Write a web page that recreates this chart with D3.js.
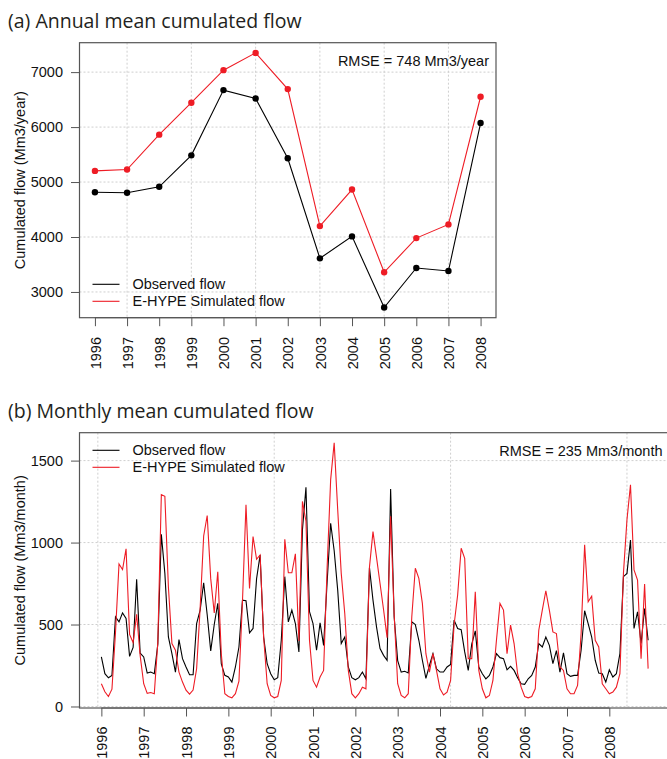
<!DOCTYPE html>
<html>
<head>
<meta charset="utf-8">
<script src="https://cdn.jsdelivr.net/npm/d3@7/dist/d3.min.js"></script>
<style>
  body { margin: 0; background: #fff; }
</style>
</head>
<body>
<div id="chart"></div>
<script>
// ---- data ----
const years = [1996, 1997, 1998, 1999, 2000, 2001, 2002, 2003, 2004, 2005, 2006, 2007, 2008];
const annualObserved = [4815, 4804, 4913, 5486, 6673, 6521, 5432, 3612, 4011, 2717, 3436, 3381, 6074];
const annualSimulated = [5203, 5227, 5862, 6443, 7036, 7350, 6691, 4198, 4864, 3358, 3980, 4229, 6552];

const monthlyObserved = [
    302, 200, 175, 190, 547, 516, 571, 537, 306, 360, 776, 325,
    302, 204, 210, 200, 380, 1050, 812, 424, 322, 210, 408, 292,
    241, 194, 194, 506, 588, 755, 560, 339, 500, 630, 260, 190,
    180, 149, 241, 363, 649, 645, 449, 476, 780, 924, 424, 261,
    200, 163, 176, 404, 792, 516, 588, 506, 333, 1078, 1337, 578,
    506, 343, 510, 373, 760, 1118, 950, 710, 384, 424, 241, 176,
    163, 176, 210, 169, 847, 649, 486, 353, 312, 282, 1327, 547,
    280, 210, 215, 205, 516, 500, 404, 282, 172, 250, 322, 230,
    210, 210, 241, 257, 527, 476, 469, 333, 220, 380, 461, 241,
    200, 169, 190, 241, 322, 298, 292, 224, 245, 220, 176, 139,
    135, 169, 190, 241, 384, 363, 424, 373, 261, 341, 210, 327,
    200, 184, 190, 190, 343, 584, 506, 424, 282, 204, 200, 149,
    224, 180, 200, 322, 792, 812, 1016, 476, 578, 384, 598, 404
];
const monthlySimulated = [
    139, 90, 61, 106, 450, 869, 835, 962, 440, 390, 563, 310,
    139, 80, 85, 78, 390, 1292, 1282, 731, 384, 343, 210, 149,
    100, 75, 100, 230, 600, 1040, 1165, 780, 570, 822, 322, 78,
    61, 53, 78, 155, 640, 1231, 720, 1037, 898, 924, 424, 139,
    67, 53, 61, 159, 1020, 816, 816, 931, 400, 1251, 1130, 404,
    159, 118, 180, 220, 850, 1384, 1608, 1200, 812, 567, 220, 78,
    53, 78, 118, 108, 850, 1067, 910, 750, 590, 420, 1160, 560,
    139, 67, 53, 78, 547, 843, 782, 629, 322, 210, 322, 220,
    108, 70, 88, 159, 500, 680, 965, 904, 292, 292, 700, 220,
    108, 53, 67, 159, 404, 629, 588, 322, 496, 384, 200, 118,
    61, 53, 61, 108, 465, 588, 706, 588, 455, 445, 241, 220,
    108, 78, 78, 129, 445, 986, 639, 673, 404, 363, 139, 108,
    78, 88, 118, 200, 812, 1139, 1353, 833, 771, 292, 747, 231
];

const seriesNames = ["Observed flow", "E-HYPE Simulated flow"];
const colors = ["#000000", "#ee1c25"];
const annualYTicks = [3000, 4000, 5000, 6000, 7000];
const annualGridYears = [1997, 1999, 2001, 2003, 2005, 2007];
const monthlyYTicks = [0, 500, 1000, 1500];
const monthlyGridIndex = [0, 50, 100, 150];   // R default grid on month index 1..156

const width = 667, height = 759;
const tickFont = "'Liberation Sans', Arial, sans-serif";
const titleFont = "'Open Sans', 'Noto Sans', sans-serif";
const boxColor = "#555";
const gridColor = "#cfcfcf";

let svg = d3.select("#chart").append("svg")
    .attr("width", width)
    .attr("height", height);
svg.append("rect").attr("width", width).attr("height", height).attr("fill", "#fff");

// R style 4% range extension
function padded(ext) {
    let d = (ext[1] - ext[0]) * 0.04;
    return [ext[0] - d, ext[1] + d];
}

function panel(cfg) {
    let g = svg.append("g");
    let x = d3.scaleLinear().domain(padded(d3.extent(cfg.xs))).range([cfg.left, cfg.right]);
    let allY = cfg.obs.concat(cfg.sim);
    let y = d3.scaleLinear().domain(padded(d3.extent(allY))).range([cfg.bottom, cfg.top]);

    // title
    svg.append("text")
        .attr("x", 8)
        .attr("y", cfg.top - 15)
        .attr("font-family", titleFont)
        .attr("font-size", 19.5)
        .attr("fill", "#231f20")
        .text(cfg.title);

    // grid
    g.selectAll(".hg").data(cfg.yTicks).join("line")
        .attr("x1", cfg.left).attr("x2", cfg.right)
        .attr("y1", d => y(d)).attr("y2", d => y(d))
        .attr("stroke", gridColor).attr("stroke-dasharray", "2,2");
    g.selectAll(".vg").data(cfg.gridX).join("line")
        .attr("x1", d => x(d)).attr("x2", d => x(d))
        .attr("y1", cfg.top).attr("y2", cfg.bottom)
        .attr("stroke", gridColor).attr("stroke-dasharray", "2,2");

    // lines
    let pts = [cfg.obs, cfg.sim];
    for (let i = 0; i < pts.length; i++) {
        let data = pts[i].map((v, j) => [cfg.xs[j], v]);
        g.append("path")
            .datum(data)
            .attr("fill", "none")
            .attr("stroke", colors[i])
            .attr("stroke-width", 1.1)
            .attr("d", d3.line().x(d => x(d[0])).y(d => y(d[1])));
        if (cfg.points) {
            g.selectAll(".pt" + i).data(data).join("circle")
                .attr("cx", d => x(d[0]))
                .attr("cy", d => y(d[1]))
                .attr("r", 3.2)
                .attr("fill", colors[i]);
        }
    }

    // box
    g.append("rect")
        .attr("x", cfg.left).attr("y", cfg.top)
        .attr("width", cfg.right - cfg.left).attr("height", cfg.bottom - cfg.top)
        .attr("fill", "none").attr("stroke", boxColor).attr("stroke-width", 1.2);

    // y axis
    let axisY = d3.axisLeft(y).tickValues(cfg.yTicks).tickSize(8.5).tickPadding(8).tickFormat(d3.format("d"));
    let gy = g.append("g").attr("transform", `translate(${cfg.left},0)`).call(axisY);
    gy.select(".domain").remove();
    gy.selectAll("line").attr("stroke", boxColor);
    gy.selectAll("text").attr("font-family", tickFont).attr("font-size", 14.5).attr("fill", "#111");

    // x axis with rotated year labels
    let axisX = d3.axisBottom(x).tickValues(cfg.xTicks).tickSize(8.5).tickFormat((d, i) => cfg.xLabels[i]);
    let gx = g.append("g").attr("transform", `translate(0,${cfg.bottom})`).call(axisX);
    gx.select(".domain").attr("stroke", boxColor)
        .attr("d", `M${x(cfg.xTicks[0])},0H${x(cfg.xTicks[cfg.xTicks.length - 1])}`);
    gx.selectAll("line").attr("stroke", boxColor);
    gx.selectAll("text")
        .attr("font-family", tickFont).attr("font-size", 14.5).attr("fill", "#111")
        .attr("transform", "rotate(-90)")
        .attr("text-anchor", "end")
        .attr("x", -(cfg.labelTop - cfg.bottom))
        .attr("y", 0)
        .attr("dy", "0.36em");

    // y label
    svg.append("text")
        .attr("transform", `translate(25,${(cfg.top + cfg.bottom) / 2}) rotate(-90)`)
        .attr("text-anchor", "middle")
        .attr("font-family", tickFont)
        .attr("font-size", 14.5)
        .attr("fill", "#111")
        .text(cfg.yLabel);

    // RMSE
    g.append("text")
        .attr("x", cfg.rmseX)
        .attr("y", cfg.top + 23)
        .attr("text-anchor", "end")
        .attr("font-family", tickFont)
        .attr("font-size", 14.5)
        .attr("fill", "#111")
        .text(cfg.rmse);

    // legend
    let leg = g.append("g").attr("transform", `translate(${cfg.left + 13},${cfg.legendY})`);
    seriesNames.forEach((n, i) => {
        leg.append("line")
            .attr("x1", 0).attr("x2", 27)
            .attr("y1", i * 17).attr("y2", i * 17)
            .attr("stroke", colors[i]).attr("stroke-width", 1.1);
        leg.append("text")
            .attr("x", 40).attr("y", i * 17)
            .attr("dy", "0.35em")
            .attr("font-family", tickFont)
            .attr("font-size", 14.5)
            .attr("fill", "#111")
            .text(n);
    });
}

// (a) annual
panel({
    title: "(a) Annual mean cumulated flow",
    xs: years,
    obs: annualObserved,
    sim: annualSimulated,
    points: true,
    left: 79.5, right: 496, top: 42.7, bottom: 317.7,
    yTicks: annualYTicks,
    gridX: annualGridYears,
    xTicks: years,
    xLabels: years.map(String),
    labelTop: 337,
    yLabel: "Cumulated flow (Mm3/year)",
    rmse: "RMSE = 748 Mm3/year",
    rmseX: 489,
    legendY: 284.3
});

// (b) monthly, plotted on month index 1..156
const monthIndex = monthlyObserved.map((d, i) => i + 1);
panel({
    title: "(b) Monthly mean cumulated flow",
    xs: monthIndex,
    obs: monthlyObserved,
    sim: monthlySimulated,
    points: false,
    left: 79.5, right: 670, top: 432.7, bottom: 708,
    yTicks: monthlyYTicks,
    gridX: monthlyGridIndex,
    xTicks: years.map((yr, i) => 1 + i * 12),
    xLabels: years.map(String),
    labelTop: 726.5,
    yLabel: "Cumulated flow (Mm3/month)",
    rmse: "RMSE = 235 Mm3/month",
    rmseX: 662.5,
    legendY: 450.3
});
</script>
</body>
</html>
